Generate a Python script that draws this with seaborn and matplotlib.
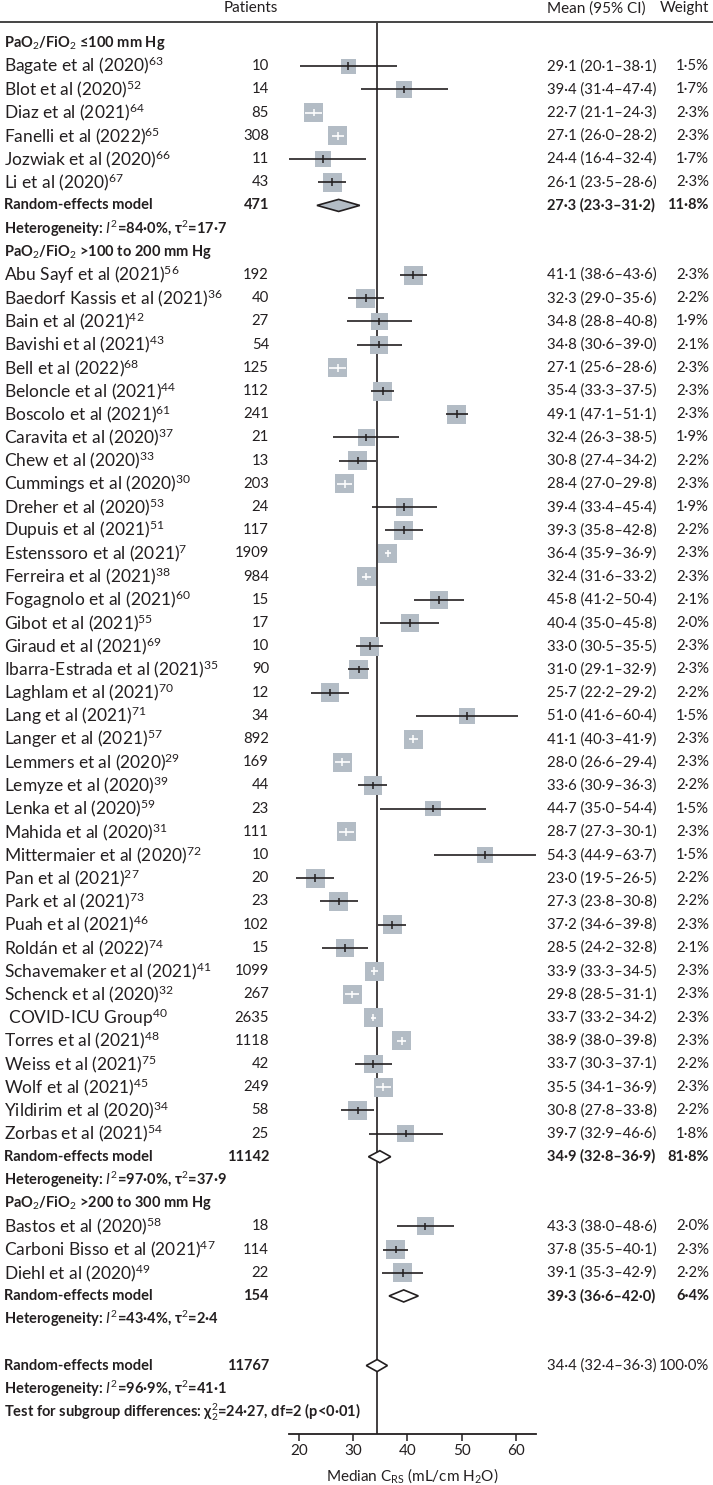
import numpy as np
import pandas as pd
import seaborn as sns
import matplotlib.pyplot as plt
from matplotlib.lines import Line2D
from matplotlib.transforms import blended_transform_factory

# study level data
names = ["Bagate et al (2020)", "Blot et al (2020)", "Diaz et al (2021)", "Fanelli et al (2022)",
         "Jozwiak et al (2020)", "Li et al (2020)",
         "Abu Sayf et al (2021)", "Baedorf Kassis et al (2021)", "Bain et al (2021)", "Bavishi et al (2021)",
         "Bell et al (2022)", "Beloncle et al (2021)", "Boscolo et al (2021)", "Caravita et al (2020)",
         "Chew et al (2020)", "Cummings et al (2020)", "Dreher et al (2020)", "Dupuis et al (2021)",
         "Estenssoro et al (2021)", "Ferreira et al (2021)", "Fogagnolo et al (2021)", "Gibot et al (2021)",
         "Giraud et al (2021)", "Ibarra-Estrada et al (2021)", "Laghlam et al (2021)", "Lang et al (2021)",
         "Langer et al (2021)", "Lemmers et al (2020)", "Lemyze et al (2020)", "Lenka et al (2020)",
         "Mahida et al (2020)", "Mittermaier et al (2020)", "Pan et al (2021)", "Park et al (2021)",
         "Puah et al (2021)", "Roldán et al (2022)", "Schavemaker et al (2021)", "Schenck et al (2020)",
         " COVID-ICU Group", "Torres et al (2021)", "Weiss et al (2021)", "Wolf et al (2021)",
         "Yildirim et al (2020)", "Zorbas et al (2021)",
         "Bastos et al (2020)", "Carboni Bisso et al (2021)", "Diehl et al (2020)"]
refs = [63, 52, 64, 65, 66, 67,
        56, 36, 42, 43, 68, 44, 61, 37, 33, 30, 53, 51, 7, 38, 60, 55, 69, 35, 70, 71, 57, 29, 39, 59,
        31, 72, 27, 73, 46, 74, 41, 32, 40, 48, 75, 45, 34, 54,
        58, 47, 49]
patients = [10, 14, 85, 308, 11, 43,
            192, 40, 27, 54, 125, 112, 241, 21, 13, 203, 24, 117, 1909, 984, 15, 17, 10, 90, 12, 34,
            892, 169, 44, 23, 111, 10, 20, 23, 102, 15, 1099, 267, 2635, 1118, 42, 249, 58, 25,
            18, 114, 22]
means = [29.1, 39.4, 22.7, 27.1, 24.4, 26.1,
         41.1, 32.3, 34.8, 34.8, 27.1, 35.4, 49.1, 32.4, 30.8, 28.4, 39.4, 39.3, 36.4, 32.4, 45.8, 40.4,
         33.0, 31.0, 25.7, 51.0, 41.1, 28.0, 33.6, 44.7, 28.7, 54.3, 23.0, 27.3, 37.2, 28.5, 33.9, 29.8,
         33.7, 38.9, 33.7, 35.5, 30.8, 39.7,
         43.3, 37.8, 39.1]
lows = [20.1, 31.4, 21.1, 26.0, 16.4, 23.5,
        38.6, 29.0, 28.8, 30.6, 25.6, 33.3, 47.1, 26.3, 27.4, 27.0, 33.4, 35.8, 35.9, 31.6, 41.2, 35.0,
        30.5, 29.1, 22.2, 41.6, 40.3, 26.6, 30.9, 35.0, 27.3, 44.9, 19.5, 23.8, 34.6, 24.2, 33.3, 28.5,
        33.2, 38.0, 30.3, 34.1, 27.8, 32.9,
        38.0, 35.5, 35.3]
highs = [38.1, 47.4, 24.3, 28.2, 32.4, 28.6,
         43.6, 35.6, 40.8, 39.0, 28.6, 37.5, 51.1, 38.5, 34.2, 29.8, 45.4, 42.8, 36.9, 33.2, 50.4, 45.8,
         35.5, 32.9, 29.2, 60.4, 41.9, 29.4, 36.3, 54.4, 30.1, 63.7, 26.5, 30.8, 39.8, 32.8, 34.5, 31.1,
         34.2, 39.8, 37.1, 36.9, 33.8, 46.6,
         48.6, 40.1, 42.9]
weights = [1.5, 1.7, 2.3, 2.3, 1.7, 2.3,
           2.3, 2.2, 1.9, 2.1, 2.3, 2.3, 2.3, 1.9, 2.2, 2.3, 1.9, 2.2, 2.3, 2.3, 2.1, 2.0, 2.3, 2.3, 2.2,
           1.5, 2.3, 2.3, 2.2, 1.5, 2.3, 1.5, 2.2, 2.2, 2.3, 2.1, 2.3, 2.3, 2.3, 2.3, 2.2, 2.3, 2.2, 1.8,
           2.0, 2.3, 2.2]
group_sizes = [6, 38, 3]

# subgroup summaries
group_titles = ["PaO$_2$/FiO$_2$ ≤100 mm Hg", "PaO$_2$/FiO$_2$ >100 to 200 mm Hg",
                "PaO$_2$/FiO$_2$ >200 to 300 mm Hg"]
sub_n = [471, 11142, 154]
sub_mean = [27.3, 34.9, 39.3]
sub_lo = [23.3, 32.8, 36.6]
sub_hi = [31.2, 36.9, 42.0]
sub_w = [11.8, 81.8, 6.4]
sub_i2 = [84.0, 97.0, 43.4]
sub_tau2 = [17.7, 37.9, 2.4]

total_n = 11767
total_mean, total_lo, total_hi = 34.4, 32.4, 36.3
total_i2, total_tau2 = 96.9, 41.1
test_chi2, test_df, test_p = 24.27, 2, "<0·01"

ticks = [20, 30, 40, 50, 60]

dark = "#231f20"
gray = "#b3bcc5"


def fmt(v, d=1):
    return f"{v:.{d}f}".replace(".", "·")


sns.set_theme(style="white")
plt.rcParams["font.family"] = ["Lato", "DejaVu Sans"]
plt.rcParams["mathtext.fontset"] = "custom"
plt.rcParams["mathtext.rm"] = "Lato"
plt.rcParams["mathtext.it"] = "Lato:italic"
plt.rcParams["mathtext.bf"] = "Lato:bold"

W, H = 713, 1485
fig = plt.figure(figsize=(W / 100, H / 100), dpi=100)
ax = fig.add_axes([289.3 / W, 1 - 1434 / H, (536 - 289.3) / W, (1434 - 22) / H])

# assign rows
row = 0
study_rows = []
title_rows, sum_rows, het_rows = [], [], []
for g, size in enumerate(group_sizes):
    title_rows.append(row)
    row += 1
    for _ in range(size):
        study_rows.append(row)
        row += 1
    sum_rows.append(row)
    het_rows.append(row + 1)
    row += 2
total_row = row + 1
total_het_row = row + 2
test_row = row + 3

df = pd.DataFrame({"name": names, "ref": refs, "n": patients, "mean": means,
                   "lo": lows, "hi": highs, "weight": weights, "y": study_rows})

ax.set_xlim(18.2, 63.7)
ax.set_ylim(test_row + 0.95, -0.905)

sns.scatterplot(data=df, x="mean", y="y", size="weight", sizes=(122, 187), size_norm=(1.5, 2.3),
                marker="s", color=gray, edgecolor="none", linewidth=0, legend=False, ax=ax, zorder=2)

side = 3.5 * np.sqrt(df["weight"] / 2.3)
inside = (df["hi"] - df["lo"]) < side
line_cols = np.where(inside, "white", dark)
ax.hlines(df["y"], df["lo"], df["hi"], colors=line_cols, lw=1.2, zorder=3)
ax.scatter(df["mean"], df["y"], marker="|", s=30, c=line_cols, linewidths=1.1, zorder=3)

h = 0.26
for i in range(3):
    y = sum_rows[i]
    fc = gray if i == 0 else "white"
    ax.fill([sub_lo[i], sub_mean[i], sub_hi[i], sub_mean[i]], [y, y - h, y, y + h],
            facecolor=fc, edgecolor=dark, lw=1.2, zorder=3)
ax.fill([total_lo, total_mean, total_hi, total_mean],
        [total_row, total_row - h, total_row, total_row + h],
        facecolor="white", edgecolor=dark, lw=1.2, zorder=3)

ax.axvline(total_mean, color=dark, lw=1.2, zorder=1)

# axis styling
for s in ["top", "left", "right"]:
    ax.spines[s].set_visible(False)
ax.spines["bottom"].set_color(dark)
ax.spines["bottom"].set_linewidth(1.3)
ax.set_yticks([])
ax.set_xticks(ticks)
ax.tick_params(axis="x", direction="out", length=5, width=1.1, colors=dark, labelsize=11,
               bottom=True, pad=2)
ax.set_xlabel("Median C$_{\\mathrm{RS}}$ (mL/cm H$_2$O)", fontsize=11, color=dark, labelpad=6)
ax.set_ylabel("")

# text columns
tr = blended_transform_factory(fig.transFigure, ax.transData)
x_name, x_n, x_ci, x_w = 4 / W, 269 / W, 547 / W, 709 / W
kw = dict(transform=tr, va="center", color=dark, fontsize=12.5)     # study names
nkw = dict(transform=tr, va="center", color=dark, fontsize=10.75)   # number columns
bkw = dict(transform=tr, va="center", color=dark, fontsize=10.5, fontweight="bold")
bnkw = dict(transform=tr, va="center", color=dark, fontsize=10.5, fontweight="bold")
hkw = dict(transform=tr, va="center", color=dark, fontsize=11)

ax.text(278 / W, -1.5, "Patients", ha="right", **hkw)
ax.text(x_ci, -1.5, "Mean (95% CI)", ha="left", **hkw)
ax.text(x_w, -1.5, "Weight", ha="right", **hkw)
fig.add_artist(Line2D([0, 1], [1 - 22 / H] * 2, transform=fig.transFigure, color="#444444", lw=1.4))

for _, r in df.iterrows():
    ax.text(x_name, r["y"], f"{r['name']}$^{{{r['ref']}}}$", ha="left", **kw)
    ax.text(x_n, r["y"], str(r["n"]), ha="right", **nkw)
    ax.text(x_ci, r["y"], f"{fmt(r['mean'])} ({fmt(r['lo'])}–{fmt(r['hi'])})", ha="left", **nkw)
    ax.text(x_w, r["y"], f"{fmt(r['weight'])}%", ha="right", **nkw)

for i in range(3):
    ax.text(x_name, title_rows[i], group_titles[i], ha="left", **bkw)
    y = sum_rows[i]
    ax.text(x_name, y, "Random-effects model", ha="left", **bkw)
    ax.text(x_n, y, str(sub_n[i]), ha="right", **bnkw)
    ax.text(x_ci, y, f"{fmt(sub_mean[i])} ({fmt(sub_lo[i])}–{fmt(sub_hi[i])})", ha="left", **bnkw)
    ax.text(x_w, y, f"{fmt(sub_w[i])}%", ha="right", **bnkw)
    ax.text(x_name, het_rows[i],
            f"Heterogeneity: $I^2$={fmt(sub_i2[i])}%, τ$^2$={fmt(sub_tau2[i])}",
            ha="left", **bkw)

ax.text(x_name, total_row, "Random-effects model", ha="left", **bkw)
ax.text(x_n, total_row, str(total_n), ha="right", **bnkw)
ax.text(x_ci, total_row, f"{fmt(total_mean)} ({fmt(total_lo)}–{fmt(total_hi)})", ha="left", **nkw)
ax.text(x_w, total_row, "100·0%", ha="right", **nkw)
ax.text(x_name, total_het_row,
        f"Heterogeneity: $I^2$={fmt(total_i2)}%, τ$^2$={fmt(total_tau2)}",
        ha="left", **bkw)
ax.text(x_name, test_row,
        f"Test for subgroup differences: χ$^2_{test_df}$={fmt(test_chi2, 2)}, df={test_df} (p{test_p})",
        ha="left", **bkw)

fig.savefig("out.png", dpi=100, facecolor="white")
